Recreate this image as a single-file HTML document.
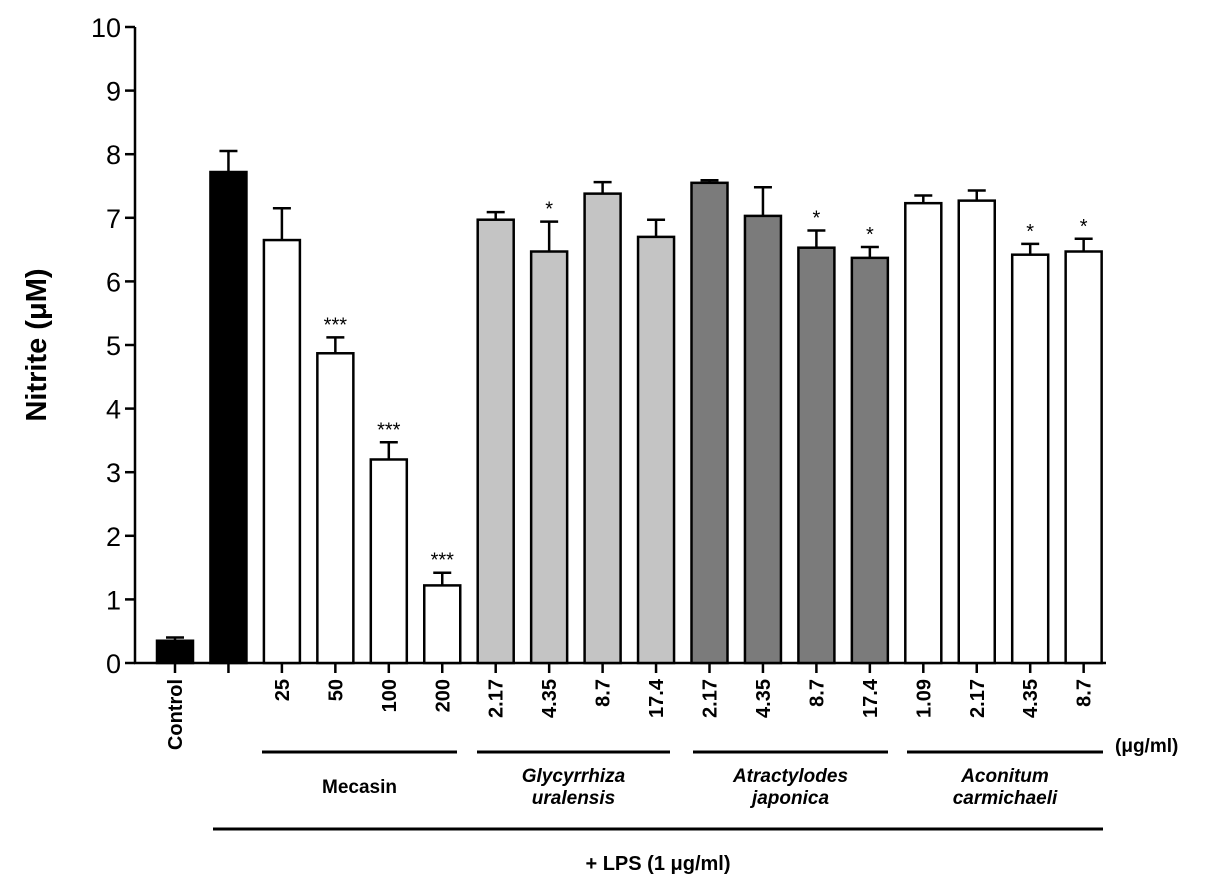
<!DOCTYPE html>
<html><head><meta charset="utf-8"><style>
body{margin:0;background:#fff;}
svg{display:block;font-family:"Liberation Sans",Arial,sans-serif;}
</style></head><body>
<svg id="chart" width="1205" height="895"></svg>
<script>
const labels=["Control","","25","50","100","200","2.17","4.35","8.7","17.4","2.17","4.35","8.7","17.4","1.09","2.17","4.35","8.7"];
const values=[0.35,7.72,6.65,4.87,3.2,1.22,6.97,6.47,7.38,6.7,7.55,7.03,6.53,6.37,7.23,7.27,6.42,6.47];
const errors=[0.05,0.33,0.5,0.25,0.27,0.2,0.12,0.47,0.18,0.27,0.04,0.45,0.27,0.17,0.12,0.16,0.17,0.2];
const fills=["#000","#000","#fff","#fff","#fff","#fff","#c4c4c4","#c4c4c4","#c4c4c4","#c4c4c4","#7b7b7b","#7b7b7b","#7b7b7b","#7b7b7b","#fff","#fff","#fff","#fff"];
const stars=["","","","***","***","***","","*","","","","","*","*","","","*","*"];
const yTicks=[0,1,2,3,4,5,6,7,8,9,10];
const NS="http://www.w3.org/2000/svg";
const svg=document.getElementById('chart');
const y=v=>663-v*63.6;
const x=i=>175+i*53.45;
const BW=36;
function mk(t,a,parent){const e=document.createElementNS(NS,t);for(const k in a)e.setAttribute(k,a[k]);(parent||svg).appendChild(e);return e;}
let ax=mk('line',{x1:135,y1:y(0),x2:135,y2:y(10),stroke:'#000','stroke-width':2.5});


let xa=mk('line',{x1:134,y1:y(0),x2:1106,y2:y(0),stroke:'#000','stroke-width':2.5});


yTicks.forEach(t=>{
 let l=mk('line',{x1:125,y1:y(t),x2:135,y2:y(t),stroke:'#000','stroke-width':2.5});
 
 
 let tx=mk('text',{x:121,y:y(t)+10,'text-anchor':'end','font-size':27});
 tx.textContent=t;
 
 
});
values.forEach((v,i)=>{
 const cx=x(i);
 let e=mk('line',{x1:cx,y1:y(v),x2:cx,y2:y(v+errors[i]),stroke:'#000','stroke-width':2.5});
 
 
 let c=mk('line',{x1:cx-9,y1:y(v+errors[i]),x2:cx+9,y2:y(v+errors[i]),stroke:'#000','stroke-width':2.5});
 
 
 let r=mk('rect',{x:cx-BW/2,y:y(v),width:BW,height:y(0)-y(v),fill:fills[i],stroke:'#000','stroke-width':2.5});
 
 
 let tk=mk('line',{x1:cx,y1:y(0),x2:cx,y2:y(0)+10,stroke:'#000','stroke-width':2.5});
 
 
 if(stars[i]){
  let s=mk('text',{x:cx,y:y(v+errors[i])-6,'text-anchor':'middle','font-size':20});
  s.textContent=stars[i];
  
  
 }
 if(labels[i]){
  let t=mk('text',{x:0,y:0,'text-anchor':'end','font-size':20,'font-weight':'bold',transform:`translate(${cx+7},${y(0)+16}) rotate(-90)`});
  t.textContent=labels[i];
  
  
 }
});
let u=mk('text',{x:1115,y:752,'font-size':19,'font-weight':'bold'});u.textContent='(μg/ml)';


const groups=[["Mecasin","",262,457,false],["Glycyrrhiza","uralensis",477,670,true],["Atractylodes","japonica",693,888,true],["Aconitum","carmichaeli",907,1103,true]];
groups.forEach(g=>{
 let l=mk('line',{x1:g[2],y1:752,x2:g[3],y2:752,stroke:'#000','stroke-width':3});
 
 
 const mx=(g[2]+g[3])/2;
 const attrs={'text-anchor':'middle','font-size':19,'font-weight':'bold'};
 if(g[4])attrs['font-style']='italic';
 if(g[1]){
  let a=mk('text',Object.assign({x:mx,y:782},attrs));a.textContent=g[0];
  
  
  let b=mk('text',Object.assign({x:mx,y:804},attrs));b.textContent=g[1];
  
  
 } else {
  let a=mk('text',Object.assign({x:mx,y:793},attrs));a.textContent=g[0];
  
  
 }
});
let lp=mk('line',{x1:213,y1:829,x2:1103,y2:829,stroke:'#000','stroke-width':3});


let lt=mk('text',{x:658,y:870,'text-anchor':'middle','font-size':20,'font-weight':'bold'});lt.textContent='+ LPS (1 μg/ml)';


let yt=mk('text',{x:0,y:0,'text-anchor':'middle','font-size':29,'font-weight':'bold',transform:'translate(46,345) rotate(-90)'});yt.textContent='Nitrite (μM)';


</script>
</body></html>
